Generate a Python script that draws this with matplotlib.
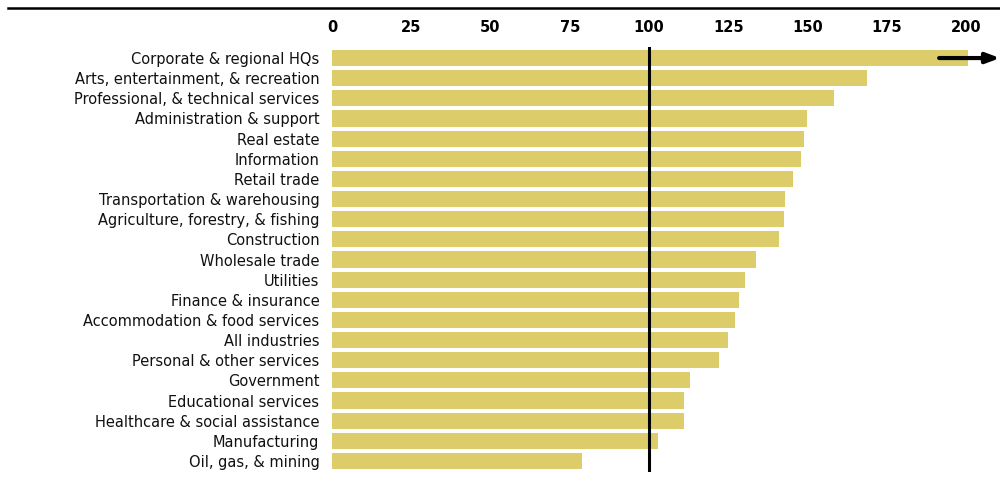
import numpy as np
import matplotlib.pyplot as plt

# Industry categories, top to bottom
industries = [
    "Corporate & regional HQs",
    "Arts, entertainment, & recreation",
    "Professional, & technical services",
    "Administration & support",
    "Real estate",
    "Information",
    "Retail trade",
    "Transportation & warehousing",
    "Agriculture, forestry, & fishing",
    "Construction",
    "Wholesale trade",
    "Utilities",
    "Finance & insurance",
    "Accommodation & food services",
    "All industries",
    "Personal & other services",
    "Government",
    "Educational services",
    "Healthcare & social assistance",
    "Manufacturing",
    "Oil, gas, & mining",
]
# Index values (100 = baseline); first bar runs off the scale
index_values = [200.5, 168.8, 158.4, 149.8, 148.9, 148.0, 145.4, 142.9, 142.6, 141.0,
                133.8, 130.3, 128.4, 127.1, 124.9, 122.1, 112.9, 111.0, 111.0, 102.8, 78.9]
ticks = [0, 25, 50, 75, 100, 125, 150, 175, 200]

fig = plt.figure(figsize=(10, 4.84), dpi=100)
ax = fig.add_axes([0.332, 0.0248, 0.668, 0.878])

y = np.arange(len(industries))
ax.barh(y, index_values, height=0.8, color="#dccd6a", zorder=1)
ax.axvline(100, color="black", lw=2.2, zorder=3)

# arrow flags the bar that extends beyond the axis
ax.annotate("", xy=(210.7, 0), xytext=(191.5, 0),
            arrowprops=dict(arrowstyle="-|>,head_length=0.8,head_width=0.3",
                            color="black", lw=3, shrinkA=0, shrinkB=0),
            annotation_clip=False, zorder=4)

ax.set_xlim(0, 210.7)
ax.set_ylim(len(industries) - 0.454, -0.546)
ax.set_yticks(y)
ax.set_yticklabels(industries, fontsize=10.5, color="#111111")
ax.set_xticks(ticks)
ax.set_xticklabels([str(t) for t in ticks], fontsize=10.5, fontweight="bold")
ax.xaxis.tick_top()
ax.tick_params(axis="both", length=0)
ax.tick_params(axis="x", pad=9)
ax.tick_params(axis="y", pad=9)
for s in ax.spines.values():
    s.set_visible(False)

# rule across the top
fig.add_artist(plt.Line2D([0.008, 1.0], [0.983, 0.983], color="black", lw=1.8))

fig.savefig("out.png", dpi=100)
